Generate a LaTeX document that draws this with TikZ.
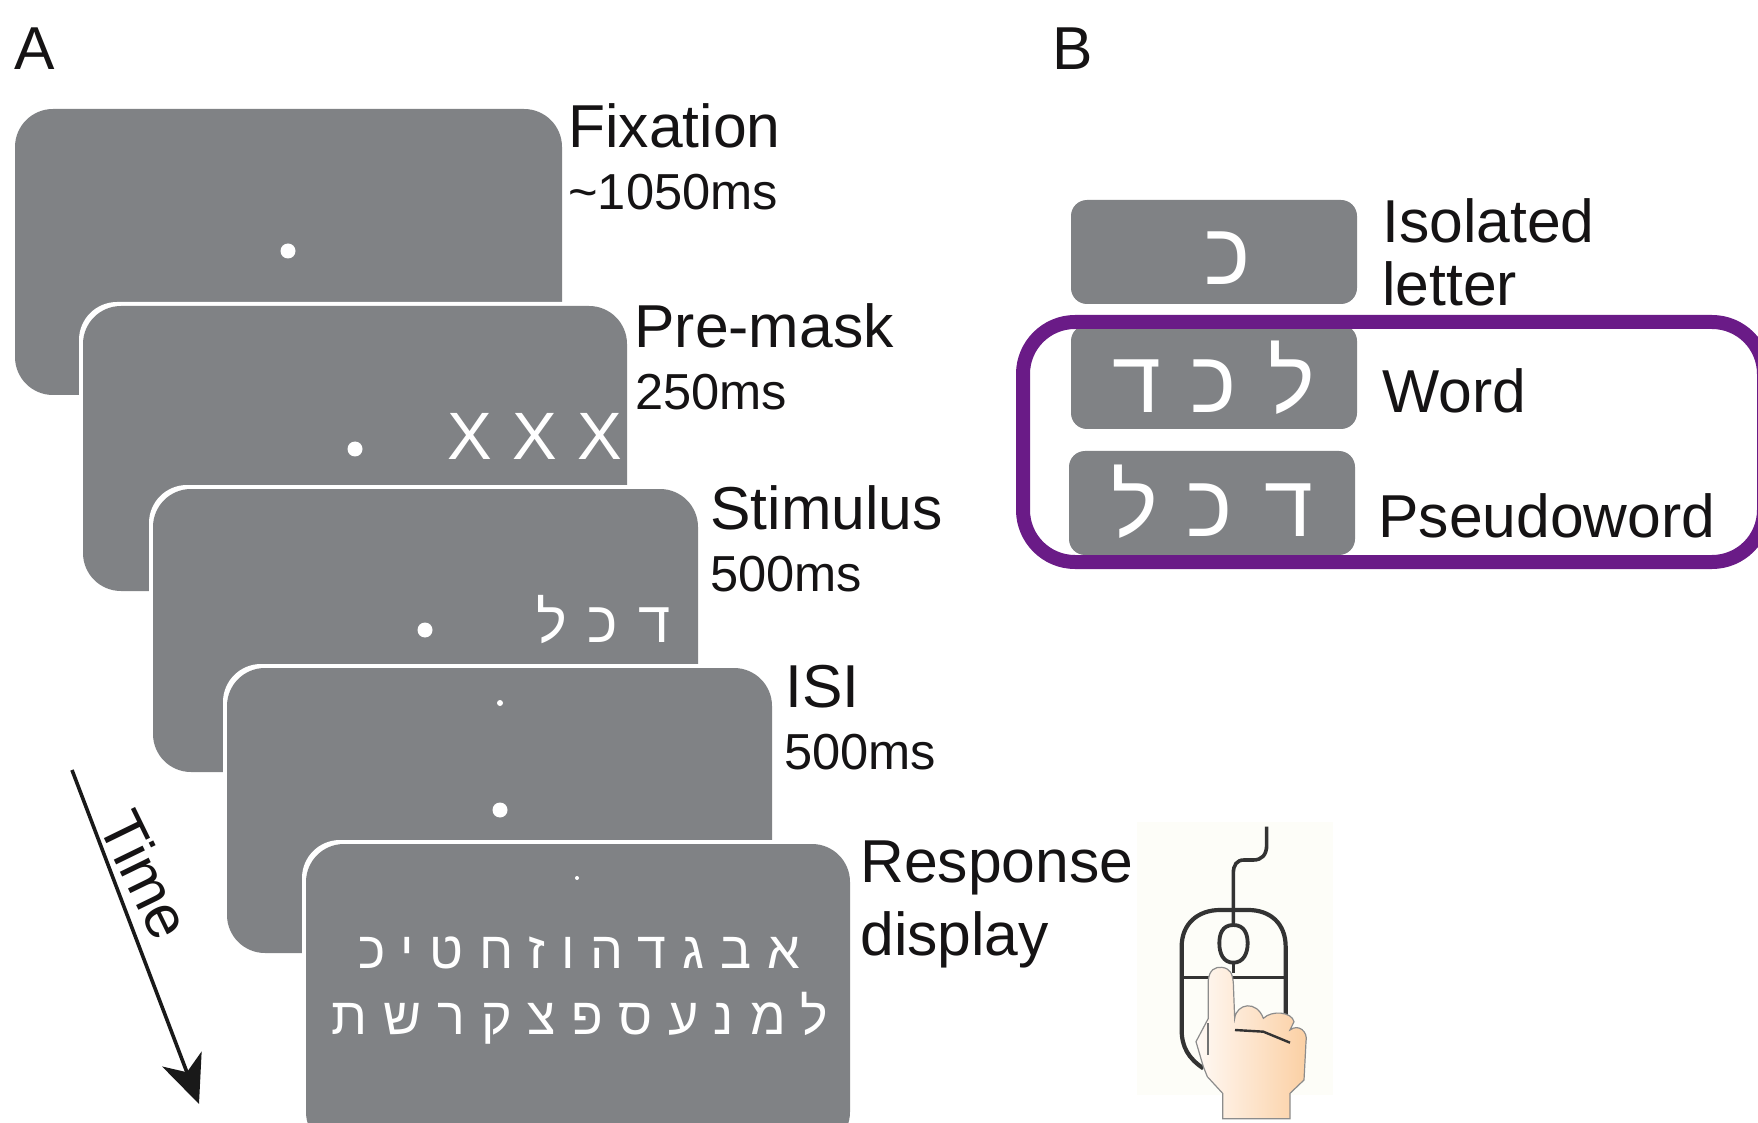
\documentclass[tikz,border=0pt]{standalone}
\usepackage{fontspec}
\setmainfont{Liberation Sans}
\newfontfamily\hebfont[Script=Hebrew]{Liberation Sans}
\newfontfamily\hebwide[Script=Hebrew,LetterSpace=30.5]{Liberation Sans}
\TeXXeTstate=1
\usetikzlibrary{arrows.meta}
\definecolor{panelgray}{HTML}{808285}
\definecolor{inkblack}{HTML}{151314}
\definecolor{boxpurple}{HTML}{6A1B87}
\definecolor{mousebg}{HTML}{FDFDF8}
\definecolor{mouseline}{HTML}{333333}
\definecolor{skinlight}{HTML}{FFF9F5}
\definecolor{skindark}{HTML}{FBCFA2}
\newcommand{\panelcard}[4]{%
  \fill[white,rounded corners=19pt] (#1-4,#2-4) rectangle (#3-4,#4-4);
  \fill[panelgray,rounded corners=19pt] (#1,#2) rectangle (#3,#4);}
\newcommand{\hebglyph}[4]{%
  \node[hebtext,font=\hebfont\fontsize{#4}{#4}\selectfont] (#1) at (#2) {\beginR #3\endR};}
\tikzset{
  x=0.5pt,y=-0.5pt,
  big/.style={anchor=base west,inner sep=0pt,text=inkblack,font=\fontsize{30.3}{30.3}\selectfont},
  small/.style={anchor=base west,inner sep=0pt,text=inkblack,font=\fontsize{25.3}{25.3}\selectfont},
  hebtext/.style={anchor=base,inner sep=0pt,text=white},
  wordbox/.style={fill=panelgray,rounded corners=8pt},
}
\begin{document}
\begin{tikzpicture}
\useasboundingbox (0,0) rectangle (1758,1123);
\fill[white] (0,0) rectangle (1758,1123);
\node[big] (labelA) at (14,70) {A};
\node[big] (labelB) at (1052,70) {B};

% Stack of trial screens, earliest at the back
\fill[panelgray,rounded corners=19pt] (15,109) rectangle (562,395);
\fill[white] (288,251) circle (7.5);
\panelcard{83}{306}{627}{591}
\fill[white] (355,449) circle (7.5);
\node[hebtext,font=\fontsize{33.5}{33.5}\selectfont] (x1) at (470,459) {X};
\node[hebtext,font=\fontsize{33.5}{33.5}\selectfont] (x2) at (535,459) {X};
\node[hebtext,font=\fontsize{33.5}{33.5}\selectfont] (x3) at (600,459) {X};
\panelcard{153}{489}{698}{772}
\fill[white] (425,630) circle (7.5);
\hebglyph{stimL}{552,642}{ל}{29}
\hebglyph{stimK}{603,642}{כ}{29}
\hebglyph{stimD}{655,642}{ד}{29}
\panelcard{227}{668}{772}{953}
\fill[white] (500,810) circle (7.5);
\fill[white] (500,703) circle (3);
\panelcard{306}{844}{850}{1150}
\fill[white] (577,878) circle (2);
\node[hebtext,font=\hebwide\fontsize{26}{26}\selectfont] (alefbet) at (579,968) {\beginR אבגדהוזחטיכ\endR};
\node[hebtext,font=\hebwide\fontsize{26}{26}\selectfont] (lamedtav) at (580,1034) {\beginR למנעספצקרשת\endR};

% Screen labels
\node[big] (fix) at (568,148) {Fixation};
\node[small] (fixt) at (568,210) {\textasciitilde 1050ms};
\node[big] (pre) at (634,348) {Pre-mask};
\node[small] (pret) at (635,409) {250ms};
\node[big] (sti) at (710,530) {Stimulus};
\node[small] (stit) at (710,591) {500ms};
\node[big] (isi) at (785,707) {ISI};
\node[small] (isit) at (784,769) {500ms};
\node[big] (res) at (860,882) {Response};
\node[big] (dis) at (860,955) {display};

% Time axis
\coordinate (timeStart) at (72,770);
\coordinate (timeEnd) at (199,1104);
\draw[black!90,line width=1.8pt,-{Stealth[length=24pt,width=21pt,inset=7pt]}] (timeStart) -- (timeEnd);
\node[big,anchor=center,rotate=-64] (time) at (146,875) {Time};

% Stimulus types
\fill[wordbox] (1071,200) rectangle (1357,304);
\fill[wordbox] (1071,325) rectangle (1357,429);
\fill[wordbox] (1069,451) rectangle (1355,555);
\hebglyph{isoK}{1228,285}{כ}{44}
\hebglyph{wordD}{1137,413}{ד}{44}
\hebglyph{wordK}{1214,413}{כ}{44}
\hebglyph{wordL}{1292,413}{ל}{44}
\hebglyph{pseuL}{1135,537}{ל}{44}
\hebglyph{pseuK}{1210,537}{כ}{44}
\hebglyph{pseuD}{1289,537}{ד}{44}
\node[big] (iso) at (1382,243) {Isolated};
\node[big] (let) at (1382,306) {letter};
\node[big] (wrd) at (1382,413) {Word};
\node[big] (pse) at (1378,538) {Pseudoword};
\draw[boxpurple,line width=7pt,rounded corners=26pt] (1023,322) rectangle (1764,562);

% Computer mouse and hand
\fill[mousebg] (1137,822) rectangle (1333,1095);
\begin{scope}[shift={(1120,810)},x=0.16667pt,y=-0.16667pt]
  \draw[mouseline,line width=1.8pt] (440,50) -- (440,105) .. controls (440,135) and (425,150) .. (400,150) -- (372,150) .. controls (350,150) and (340,165) .. (340,190) -- (340,345);
  \draw[mouseline,line width=2.1pt] (250,775) .. controls (205,745) and (185,710) .. (185,660) -- (185,410) .. controls (185,340) and (235,300) .. (300,300) -- (385,300) .. controls (450,300) and (497,340) .. (497,410) -- (497,640);
  \draw[mouseline,line width=1.5pt] (185,502) -- (497,502);
  \draw[mouseline,line width=1.9pt] (340,345) .. controls (375,345) and (383,375) .. (383,400) .. controls (383,430) and (370,458) .. (340,458) .. controls (310,458) and (298,430) .. (298,400) .. controls (298,375) and (305,345) .. (340,345);
  \draw[mouseline,line width=1.5pt] (340,458) -- (340,490);
  \shade[left color=skinlight,right color=skindark,draw=black!45,line width=0.6pt]
    (265,510) .. controls (268,480) and (285,470) .. (305,472)
    .. controls (330,475) and (338,490) .. (340,520) -- (344,625)
    .. controls (350,580) and (410,570) .. (430,625)
    .. controls (455,600) and (515,605) .. (522,635) -- (510,660)
    .. controls (535,640) and (565,665) .. (558,695)
    -- (552,810) -- (510,850) -- (510,926) -- (308,926) -- (308,850)
    -- (262,800) -- (250,770) -- (228,695) -- (265,625) -- cycle;
  \draw[mouseline,line width=1.2pt] (345,660) -- (430,665) -- (510,698);
  \draw[black!55,line width=0.9pt] (265,640) -- (265,735);
\end{scope}
\end{tikzpicture}
\end{document}
